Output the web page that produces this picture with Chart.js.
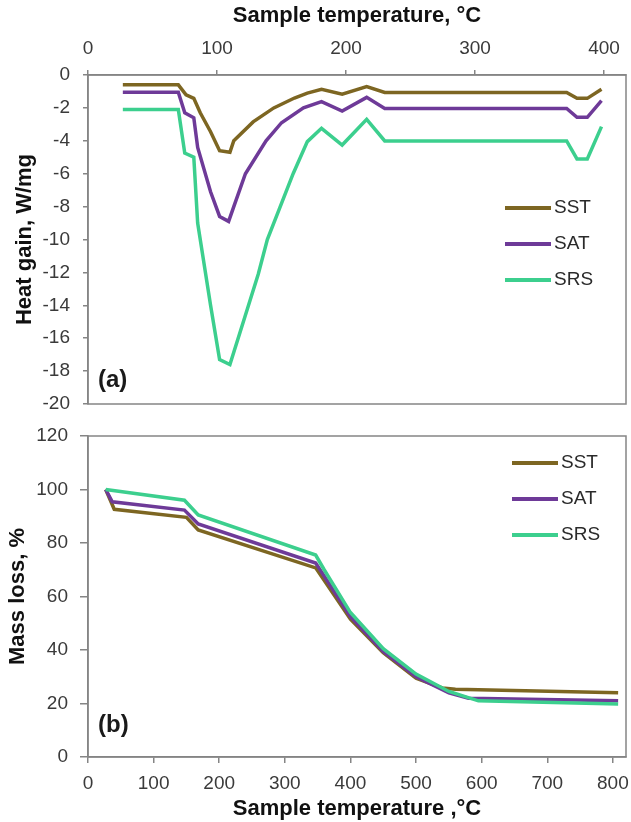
<!DOCTYPE html>
<html>
<head>
<meta charset="utf-8">
<script src="https://cdn.jsdelivr.net/npm/chart.js@4.4.1/dist/chart.umd.min.js"></script>
<style>
  html, body { margin: 0; padding: 0; background: #fff; }
  #wrap { position: relative; width: 631px; height: 822px; }
  .panel { position: absolute; left: 0; width: 631px; }
  #top { top: 0; height: 420px; }
  #bottom { top: 420px; height: 402px; }
</style>
</head>
<body>
<div id="wrap">
  <div class="panel" id="top"><canvas id="dscChart"></canvas></div>
  <div class="panel" id="bottom"><canvas id="tgaChart"></canvas></div>
</div>
<script>
// Series names and colours
const seriesNames = ['SST', 'SAT', 'SRS'];
const seriesColors = ['#7d6622', '#6e3a98', '#3ccf8e'];

// (a) Heat flow vs sample temperature
const sstDscT = [27, 70, 76, 82, 87, 95, 102, 110, 113, 128, 144, 160, 170, 181, 197, 216, 230, 371, 379, 387, 398];
const sstDscQ = [-0.6, -0.6, -1.2, -1.42, -2.3, -3.45, -4.6, -4.7, -4.0, -2.85, -2.0, -1.4, -1.1, -0.87, -1.16, -0.71, -1.06, -1.06, -1.42, -1.42, -0.87];
const satDscT = [27, 70, 75, 82, 85, 95, 102, 109, 113, 122, 138, 150, 167, 181, 197, 216, 230, 371, 379, 387, 398];
const satDscQ = [-1.05, -1.05, -2.3, -2.6, -4.4, -7.1, -8.6, -8.9, -8.0, -6.0, -4.0, -2.9, -2.0, -1.62, -2.19, -1.36, -2.03, -2.03, -2.57, -2.57, -1.56];
const srsDscT = [27, 70, 75, 82, 85, 95, 102, 110, 124, 132, 139, 149, 159, 170, 181, 197, 216, 230, 371, 379, 387, 398];
const srsDscQ = [-2.1, -2.1, -4.75, -5.0, -9.0, -14.0, -17.3, -17.6, -14.1, -12.1, -10.0, -8.0, -6.0, -4.05, -3.24, -4.26, -2.7, -4.01, -4.01, -5.1, -5.1, -3.14];

// (b) Mass loss vs sample temperature
const sstTgaT = [27, 40, 150, 168, 347, 400, 450, 500, 540, 560, 808];
const sstTgaM = [100, 92.6, 89.6, 84.9, 70.7, 51.5, 39, 29.5, 25.8, 25.3, 24];
const satTgaT = [27, 37, 147, 168, 347, 400, 450, 500, 550, 580, 808];
const satTgaM = [100, 95.4, 92.3, 87.1, 72.5, 52.5, 39.5, 30, 24, 22, 21];
const srsTgaT = [27, 147, 168, 347, 360, 400, 450, 500, 550, 595, 808];
const srsTgaM = [100, 96, 90.5, 75.5, 70, 54, 40.5, 31, 24.5, 21, 19.8];

const axisGrey = '#858585';
const labelColor = '#3a3a3a';
Chart.defaults.font.family = '"Liberation Sans", Arial, sans-serif';

function toPoints(xs, ys) {
    return xs.map((x, i) => ({ x: x, y: ys[i] }));
}

function makeDatasets(pairs) {
    return pairs.map((p, i) => ({
        label: seriesNames[i],
        data: toPoints(p[0], p[1]),
        borderColor: seriesColors[i],
        backgroundColor: seriesColors[i],
        borderWidth: 3.5,
        pointRadius: 0,
        tension: 0,
        fill: false,
        order: 2 - i
    }));
}

// frame around the plot, hand-placed legend and panel tag
const framePlugin = {
    id: 'frame',
    afterDraw(chart, args, opts) {
        const { ctx, chartArea: a } = chart;
        ctx.save();
        ctx.strokeStyle = axisGrey;
        ctx.lineWidth = 1.5;
        ctx.strokeRect(a.left, a.top, a.right - a.left, a.bottom - a.top);

        ctx.font = '19px "Liberation Sans", Arial, sans-serif';
        ctx.textBaseline = 'middle';
        ctx.textAlign = 'left';
        chart.data.datasets.forEach((ds, i) => {
            const y = a.top + opts.legendTop + i * 36;
            const x = a.right - opts.legendRight;
            ctx.strokeStyle = ds.borderColor;
            ctx.lineWidth = 4;
            ctx.beginPath();
            ctx.moveTo(x, y);
            ctx.lineTo(x + 46, y);
            ctx.stroke();
            ctx.fillStyle = '#2a2a2a';
            ctx.fillText(ds.label, x + 49, y);
        });

        ctx.font = 'bold 24px "Liberation Sans", Arial, sans-serif';
        ctx.fillStyle = '#1a1a1a';
        ctx.fillText(opts.tag, a.left + 10, a.bottom - opts.tagUp);
        ctx.restore();
    }
};

function buildScales(cfg) {
    return {
        x: {
            type: 'linear',
            position: cfg.xPos,
            min: 0,
            max: cfg.xMax,
            ticks: { stepSize: 100, includeBounds: false, padding: cfg.xPad, color: labelColor, font: { size: 19 } },
            grid: { drawOnChartArea: false, tickLength: cfg.xTick, color: axisGrey, lineWidth: 1.5 },
            border: { color: axisGrey, width: 1.5 },
            title: {
                display: true,
                text: cfg.xTitle,
                color: '#111',
                font: { size: 22, weight: 'bold' },
                padding: cfg.xTitlePad
            },
            afterFit(s) {
                s.height = cfg.xHeight;
                s.paddingLeft = 0;
                s.paddingRight = 0;
            }
        },
        y: {
            type: 'linear',
            min: cfg.yMin,
            max: cfg.yMax,
            ticks: { stepSize: cfg.yStep, padding: cfg.yPad, color: labelColor, font: { size: 19 } },
            grid: { drawOnChartArea: false, tickLength: cfg.yTick, color: axisGrey, lineWidth: 1.5 },
            border: { color: axisGrey, width: 1.5 },
            title: {
                display: true,
                text: cfg.yTitle,
                color: '#111',
                font: { size: 22, weight: 'bold' },
                padding: cfg.yTitlePad
            },
            afterFit(s) {
                s.width = 88;
                s.paddingTop = 0;
                s.paddingBottom = 0;
            }
        }
    };
}

const commonOptions = {
    responsive: true,
    maintainAspectRatio: false,
    animation: false,
    devicePixelRatio: 1,
    events: []
};

new Chart(document.getElementById('dscChart'), {
    type: 'line',
    data: {
        datasets: makeDatasets([[sstDscT, sstDscQ], [satDscT, satDscQ], [srsDscT, srsDscQ]])
    },
    options: Object.assign({}, commonOptions, {
        layout: { padding: { top: 0, left: 0, right: 5, bottom: 16 } },
        scales: buildScales({
            xPos: 'top', xMax: 417, xPad: 10, xTick: 5, xHeight: 75,
            xTitle: 'Sample temperature, \u00b0C', xTitlePad: { top: 3, bottom: 0 },
            yMin: -20, yMax: 0, yStep: 2, yPad: 13, yTick: 5,
            yTitle: 'Heat gain, W/mg', yTitlePad: { top: 12, bottom: 0 }
        }),
        plugins: {
            legend: { display: false },
            tooltip: { enabled: false },
            frame: { legendTop: 133, legendRight: 121, tag: '(a)', tagUp: 24 }
        }
    }),
    plugins: [framePlugin]
});

new Chart(document.getElementById('tgaChart'), {
    type: 'line',
    data: {
        datasets: makeDatasets([[sstTgaT, sstTgaM], [satTgaT, satTgaM], [srsTgaT, srsTgaM]])
    },
    options: Object.assign({}, commonOptions, {
        layout: { padding: { top: 16, left: 0, right: 5, bottom: 0 } },
        scales: buildScales({
            xPos: 'bottom', xMax: 820, xPad: 9, xTick: 6, xHeight: 65,
            xTitle: 'Sample temperature ,\u00b0C', xTitlePad: { top: 0, bottom: 0 },
            yMin: 0, yMax: 120, yStep: 20, yPad: 12, yTick: 8,
            yTitle: 'Mass loss, %', yTitlePad: { top: 5, bottom: 0 }
        }),
        plugins: {
            legend: { display: false },
            tooltip: { enabled: false },
            frame: { legendTop: 27, legendRight: 114, tag: '(b)', tagUp: 32 }
        }
    }),
    plugins: [framePlugin]
});
</script>
</body>
</html>
